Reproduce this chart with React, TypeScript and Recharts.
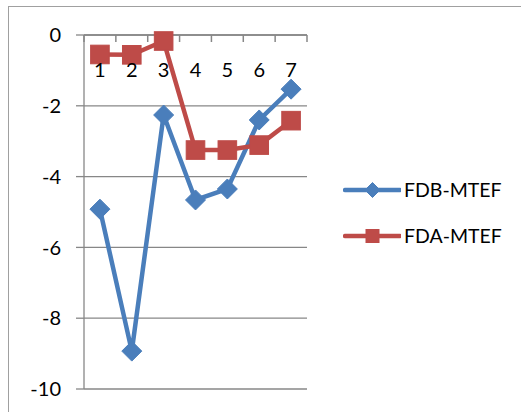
import React from 'react';
import { LineChart, Line, XAxis, YAxis, CartesianGrid, Legend } from 'recharts';

// Periods on the category axis and the two series plotted against them
const periods = [1, 2, 3, 4, 5, 6, 7];
const fdbMtef = [-4.92, -8.93, -2.26, -4.66, -4.35, -2.4, -1.53];
const fdaMtef = [-0.55, -0.56, -0.17, -3.25, -3.25, -3.11, -2.42];
const yTicks = [0, -2, -4, -6, -8, -10];
// Tick marks fall between categories, labels on the categories themselves
const boundaryTicks = [0.5, 1.5, 2.5, 3.5, 4.5, 5.5, 6.5, 7.5];
const xTicks = [...periods, ...boundaryTicks].sort((a, b) => a - b);
const legendOrder = ['fdb', 'fda'];

const BLUE = '#4A7EBB';
const RED = '#BE4B48';
const AXIS = '#878787';
const FONT = 'Lato, "Open Sans", sans-serif';

const data = periods.map((p, i) => ({ period: p, fdb: fdbMtef[i], fda: fdaMtef[i] }));

const seriesShapes: Record<string, 'diamond' | 'square'> = { fdb: 'diamond', fda: 'square' };

function Marker({ cx, cy, color, shape, size }: { cx: number; cy: number; color: string; shape: string; size: number }) {
  if (shape === 'diamond') {
    const pts = `${cx},${cy - size} ${cx + size},${cy} ${cx},${cy + size} ${cx - size},${cy}`;
    return <polygon points={pts} fill={color} stroke={color} strokeWidth={1} />;
  }
  return <rect x={cx - size} y={cy - size} width={size * 2} height={size * 2} fill={color} stroke={color} strokeWidth={1} />;
}

const diamondDot = (props: any) => (
  <g key={`fdb-${props.index}`}>
    <Marker cx={props.cx} cy={props.cy} color={BLUE} shape="diamond" size={10} />
  </g>
);

const squareDot = (props: any) => (
  <g key={`fda-${props.index}`}>
    <Marker cx={props.cx} cy={props.cy} color={RED} shape="square" size={9.3} />
  </g>
);

// The category axis runs along the top at 0: tick marks point down into the
// plot at the boundaries, and the period numbers sit just below the line
const PeriodTick = (props: any) => {
  const { x, y, payload } = props;
  if (!Number.isInteger(payload.value)) {
    return <line x1={x} y1={y} x2={x} y2={y + 7} stroke={AXIS} strokeWidth={1.5} />;
  }
  return (
    <text x={x} y={y + 42} textAnchor="middle" fill="#000" fontSize={20} fontFamily={FONT}>
      {payload.value}
    </text>
  );
};

const renderLegend = (props: any) => {
  const payload = [...(props.payload || [])].sort(
    (a: any, b: any) => legendOrder.indexOf(a.dataKey) - legendOrder.indexOf(b.dataKey)
  );
  return (
    <div style={{ fontFamily: FONT }}>
      {payload.map((entry: any) => (
        <div
          key={entry.value}
          style={{ display: 'flex', alignItems: 'center', height: 24, marginBottom: 22 }}
        >
          <svg width={58} height={24} style={{ display: 'block' }}>
            <line x1={2} y1={12} x2={57} y2={12} stroke={entry.color} strokeWidth={4.5} strokeLinecap="round" />
            <Marker
              cx={29.5}
              cy={12}
              color={entry.color}
              shape={seriesShapes[entry.dataKey] || 'square'}
              size={seriesShapes[entry.dataKey] === 'diamond' ? 7.5 : 6.5}
            />
          </svg>
          <span style={{ marginLeft: 3, fontSize: 19.5, color: '#000', lineHeight: '24px' }}>{entry.value}</span>
        </div>
      ))}
    </div>
  );
};

export default function App() {
  return (
    <div style={{ position: 'absolute', left: 0, top: 0, width: 521, height: 412, background: '#fff', fontFamily: FONT }}>
      <div
        style={{
          position: 'absolute',
          left: 8,
          top: 6,
          width: 513,
          height: 406,
          borderTop: '1.5px solid #a0a0a0',
          borderLeft: '1.5px solid #a0a0a0',
          boxSizing: 'border-box',
        }}
      />
      <div style={{ position: 'absolute', left: 0, top: 0 }}>
        <LineChart width={521} height={412} data={data} margin={{ top: 34, left: 83, right: 214, bottom: 23 }}>
          <CartesianGrid horizontal vertical={false} stroke={AXIS} strokeWidth={1.3} />
          <XAxis
            dataKey="period"
            type="number"
            domain={[0.5, 7.5]}
            allowDataOverflow
            ticks={xTicks}
            interval={0}
            orientation="top"
            height={1}
            tickSize={0}
            tickMargin={0}
            axisLine={{ stroke: AXIS, strokeWidth: 1.3 }}
            tickLine={false}
            tick={PeriodTick}
          />
          <YAxis
            type="number"
            domain={[-10, 0]}
            ticks={yTicks}
            interval={0}
            width={1}
            tickSize={8}
            tickMargin={15}
            axisLine={{ stroke: AXIS, strokeWidth: 1.3 }}
            tickLine={{ stroke: AXIS, strokeWidth: 1.3 }}
            tick={{ fill: '#000', fontSize: 20, fontFamily: FONT }}
          />
          <Line
            dataKey="fdb"
            name="FDB-MTEF"
            stroke={BLUE}
            strokeWidth={4.5}
            dot={diamondDot}
            activeDot={false}
            isAnimationActive={false}
          />
          <Line
            dataKey="fda"
            name="FDA-MTEF"
            stroke={RED}
            strokeWidth={4.5}
            dot={squareDot}
            activeDot={false}
            isAnimationActive={false}
          />
          <Legend
            layout="vertical"
            align="center"
            verticalAlign="middle"
            wrapperStyle={{ left: 343, top: 178, width: 175, height: 90 }}
            content={renderLegend}
          />
        </LineChart>
      </div>
    </div>
  );
}
